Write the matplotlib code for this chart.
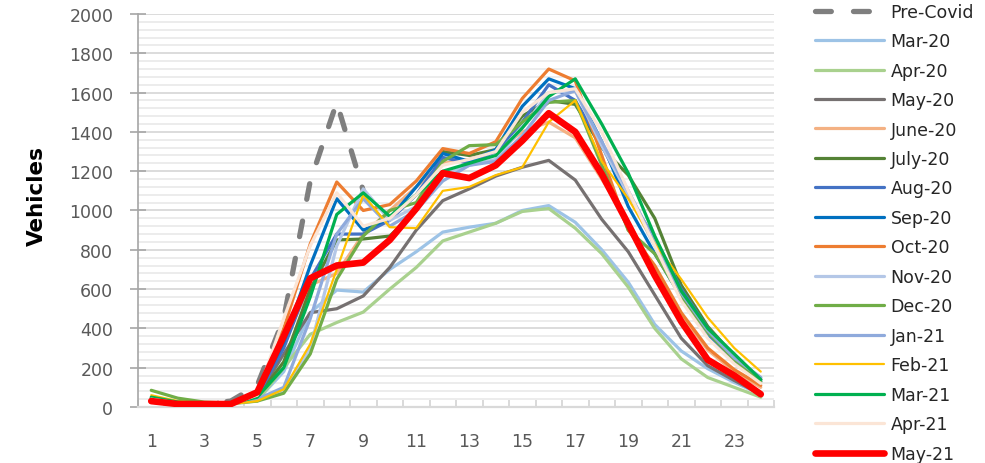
import numpy as np
import matplotlib
matplotlib.use('Agg')
import matplotlib.pyplot as plt
from matplotlib.ticker import MultipleLocator, FixedLocator

nan = np.nan
hours = list(range(1, 25))

pre_covid = [30, 15, 15, 30, 110, 450, 1150, 1550, 1100] + [nan] * 15
mar20 = [35, 20, 15, 15, 35, 180, 480, 595, 585, 700, 790, 890, 915, 935, 1000, 1025, 940, 800, 635, 420, 285, 195, 125, 65]
apr20 = [40, 20, 15, 15, 30, 200, 370, 430, 483, 600, 710, 845, 890, 935, 995, 1010, 910, 780, 610, 400, 245, 150, 100, 50]
may20 = [30, 15, 15, 15, 50, 270, 480, 500, 565, 710, 900, 1050, 1110, 1175, 1220, 1255, 1155, 955, 790, 570, 350, 210, 135, 65]
jun20 = [40, 20, 15, 15, 55, 330, 620, 680, 880, 1000, 1120, 1240, 1260, 1300, 1400, 1450, 1370, 1160, 940, 700, 470, 290, 180, 100]
jul20 = [45, 25, 20, 15, 50, 230, 600, 850, 855, 870, 1000, 1300, 1280, 1310, 1480, 1560, 1540, 1320, 1180, 960, 620, 410, 260, 140]
aug20 = [40, 20, 15, 15, 55, 300, 650, 880, 880, 950, 1080, 1270, 1240, 1300, 1450, 1640, 1560, 1330, 1070, 860, 600, 400, 260, 140]
sep20 = [40, 20, 15, 15, 60, 330, 720, 1060, 900, 960, 1120, 1290, 1250, 1310, 1530, 1670, 1620, 1350, 1020, 780, 560, 370, 230, 130]
oct20 = [35, 20, 15, 15, 60, 400, 830, 1145, 1000, 1030, 1150, 1315, 1290, 1350, 1570, 1720, 1660, 1280, 900, 720, 480, 300, 190, 110]
nov20 = [40, 20, 15, 15, 40, 80, 300, 820, 1110, 950, 1020, 1180, 1230, 1260, 1420, 1600, 1610, 1330, 1080, 820, 560, 380, 250, 150]
dec20 = [85, 45, 25, 20, 30, 70, 270, 650, 870, 1000, 1040, 1250, 1330, 1335, 1450, 1550, 1560, 1230, 900, 780, 560, 380, 240, 130]
jan21 = [40, 20, 15, 15, 40, 100, 450, 880, 1060, 920, 1000, 1150, 1230, 1250, 1380, 1560, 1610, 1350, 1100, 840, 580, 390, 250, 150]
feb21 = [60, 30, 20, 15, 30, 90, 320, 700, 1080, 915, 910, 1100, 1120, 1180, 1220, 1450, 1560, 1250, 1060, 830, 650, 455, 300, 180]
mar21 = [50, 25, 20, 20, 50, 200, 560, 980, 1090, 970, 1080, 1200, 1240, 1280, 1420, 1580, 1670, 1440, 1190, 870, 590, 400, 270, 140]
apr21 = [40, 20, 15, 15, 60, 450, 820, 1090, 920, 960, 1080, 1230, 1260, 1300, 1500, 1600, 1620, 1400, 1100, 820, 540, 350, 220, 120]
may21 = [30, 15, 15, 15, 75, 360, 655, 720, 735, 850, 1010, 1190, 1165, 1230, 1355, 1495, 1400, 1185, 930, 670, 435, 240, 160, 65]

labels = ["Pre-Covid", "Mar-20", "Apr-20", "May-20", "June-20", "July-20", "Aug-20",
          "Sep-20", "Oct-20", "Nov-20", "Dec-20", "Jan-21", "Feb-21", "Mar-21",
          "Apr-21", "May-21"]
values = [pre_covid, mar20, apr20, may20, jun20, jul20, aug20, sep20, oct20,
          nov20, dec20, jan21, feb21, mar21, apr21, may21]
colors = ["#7F7F7F", "#9DC3E6", "#A9D18E", "#767171", "#F4B183", "#548235",
          "#4472C4", "#0070C0", "#ED7D31", "#B4C7E7", "#70AD47", "#8FAADC",
          "#FFC000", "#00B050", "#FBE5D6", "#FF0000"]

fig = plt.figure(figsize=(9.85, 4.64), dpi=100)
ax = fig.add_axes([0.1401, 0.1207, 0.6457, 0.8470])

# gridlines: major every 200, minor every 40
ax.yaxis.set_major_locator(MultipleLocator(200))
ax.yaxis.set_minor_locator(MultipleLocator(40))
ax.grid(True, which='minor', axis='y', color='#EBEBEB', lw=1.3, zorder=0)
ax.grid(True, which='major', axis='y', color='#D9D9D9', lw=1.3, zorder=0)
ax.set_axisbelow(True)

handles = []
for lab, vals, col in zip(labels, values, colors):
    if lab == "Pre-Covid":
        ln, = ax.plot(hours, vals, color=col, lw=3.8, dashes=(3.0, 4.2),
                      dash_capstyle='round', zorder=2)
    elif lab == "May-21":
        ln, = ax.plot(hours, vals, color=col, lw=4.8, solid_capstyle='round',
                      solid_joinstyle='round', zorder=3)
    elif lab == "Feb-21":
        ln, = ax.plot(hours, vals, color=col, lw=1.6, solid_capstyle='round',
                      solid_joinstyle='round', zorder=2)
    else:
        ln, = ax.plot(hours, vals, color=col, lw=2.3, solid_capstyle='round',
                      solid_joinstyle='round', zorder=2)
    handles.append(ln)

ax.set_xlim(0.5, 24.5)
ax.set_ylim(0, 2000)

for s in ['top', 'right']:
    ax.spines[s].set_visible(False)
ax.spines['left'].set_color('#A6A6A6')
ax.spines['left'].set_linewidth(1.2)
ax.spines['bottom'].set_color('#D9D9D9')
ax.spines['bottom'].set_linewidth(1.6)

ax.xaxis.set_major_locator(FixedLocator(list(range(1, 25, 2))))
ax.xaxis.set_minor_locator(FixedLocator([h + 0.5 for h in range(0, 25)]))
ax.tick_params(axis='x', which='major', length=0, pad=18, labelsize=12.5,
               labelcolor='#595959')
ax.tick_params(axis='x', which='minor', direction='in', length=5,
               width=1.4, color='#D9D9D9')
ax.tick_params(axis='y', which='major', direction='inout', length=11.5,
               width=1.2, color='#A6A6A6', pad=12, labelsize=12.5,
               labelcolor='#595959')
ax.tick_params(axis='y', which='minor', length=0)

ax.set_ylabel('Vehicles', fontsize=15.5, fontweight='bold', color='black')
ax.yaxis.set_label_coords(-0.143, 0.54)

fig.legend(handles, labels, loc='upper left', bbox_to_anchor=(0.8274, 0.992),
           frameon=False, fontsize=12.5, handlelength=4.0, handletextpad=0.35,
           labelspacing=0.66, borderpad=0, borderaxespad=0, labelcolor='#262626')

fig.savefig('out.png', dpi=100)
